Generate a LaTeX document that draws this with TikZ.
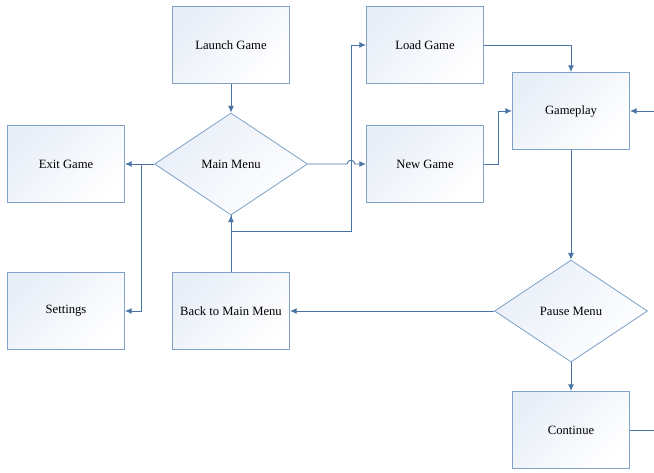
\documentclass[tikz,border=0pt]{standalone}
\usepackage{fontspec}
\setmainfont{Liberation Serif}
\usepackage{tikz}
\usetikzlibrary{arrows.meta,positioning,shapes.geometric}

\definecolor{edgeblue}{RGB}{128,162,200}
\definecolor{linkblue}{RGB}{74,116,166}
\definecolor{fillblue}{RGB}{232,238,248}

\begin{document}
\begin{tikzpicture}[x=0.03cm,y=-0.03cm,
  font=\fontsize{10.8}{13}\selectfont,
  box/.style={rectangle,draw=edgeblue,line width=0.9pt,top color=fillblue,bottom color=white,shading angle=45,minimum width=3.51cm,minimum height=2.31cm,inner sep=0pt},
  choice/.style={diamond,draw=edgeblue,line width=0.7pt,top color=fillblue,bottom color=white,shading angle=45,minimum width=4.59cm,minimum height=3.06cm,aspect=1.5,inner sep=0pt},
  flow/.style={draw=linkblue,line width=0.8pt,-{Latex[length=2mm,width=1.8mm]}}]
\useasboundingbox (0,0) rectangle (654,472);

% Start
\node[box] (launch) at (231,45) {Launch Game};

% Main menu and its choices
\node[choice] (menu) at (231,164) {Main Menu};
\node[box] (exit) at (66,164) {Exit Game};
\node[box] (settings) at (66,311) {Settings};
\node[box] (back) at (231,311) {Back to Main Menu};
\node[box] (load) at (425,45) {Load Game};
\node[box] (new) at (425,164) {New Game};

% Game loop
\node[box] (play) at (571,111) {Gameplay};
\node[choice] (pause) at (571,311) {Pause Menu};
\node[box] (cont) at (571,430) {Continue};

% Connections
\draw[flow] (launch) -- (menu);
\draw[flow] (menu.west) -- (exit);
\draw[flow] (141,164) |- (settings);
\draw[flow] (back) -- (menu.south);
\draw[flow] (menu.south) |- (351,231) |- (load);
\draw[flow] (menu.east) -- (347,164) .. controls (348,159) and (354,159) .. (355,164) -- (new);
\draw[flow] (load) -| (play);
\draw[flow] (new.east) -- (498,164) |- (play);
\draw[flow] (play) -- (pause);
\draw[flow] (pause) -- (back);
\draw[flow] (pause) -- (cont);
\draw[flow] (cont.east) -- (668,430) |- (play.east);
\end{tikzpicture}
\end{document}
